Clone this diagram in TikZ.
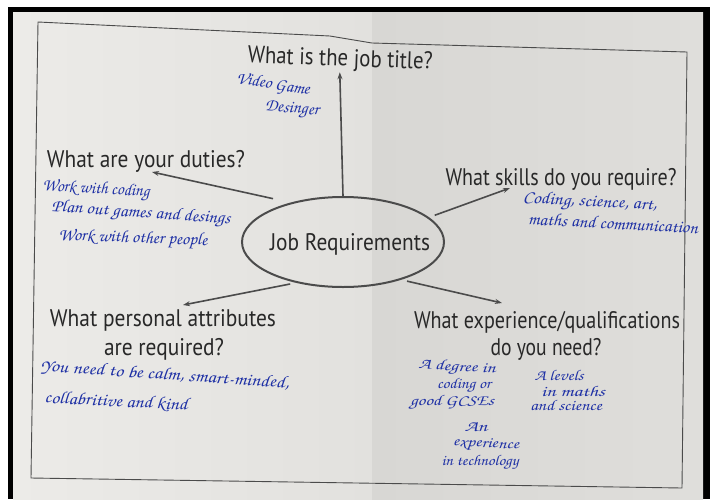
\documentclass[tikz,border=0pt]{standalone}
\usepackage{fontspec}
\usepackage{graphicx}
\setsansfont{PT Sans}
\usetikzlibrary{shapes.geometric,arrows.meta}

\definecolor{ink}{RGB}{40,40,40}
\definecolor{pen}{RGB}{30,48,165}
\definecolor{lines}{RGB}{75,75,75}
\definecolor{pageL}{RGB}{236,235,232}
\definecolor{pageM}{RGB}{226,225,222}
\definecolor{pageD}{RGB}{216,215,212}
\definecolor{pageR}{RGB}{223,222,219}

% squeeze a text to a given width (in px)
\newcommand\fitw[2]{\setbox0\hbox{#2}\pgfmathsetmacro\fitfac{#1/\the\wd0}\scalebox{\fitfac}[1]{\box0}}
\newcommand\hand{\fontencoding{OT1}\fontfamily{pzc}\fontseries{mb}\fontshape{it}\selectfont}

\begin{document}
\begin{tikzpicture}[x=1pt,y=-1pt]
	\tikzset{printed/.style={font=\sffamily\fontsize{24}{26}\selectfont,text=ink,inner sep=1pt,anchor=base}}
	\tikzset{hw/.style={font=\hand\fontsize{17.5}{19}\selectfont,text=pen,inner sep=0pt}}
	\tikzset{hwsmall/.style={hw,font=\hand\fontsize{15}{16}\selectfont}}
	\tikzset{hub/.style={ellipse,draw=lines,line width=2pt,minimum width=202pt,minimum height=90pt,inner sep=0pt}}
	\tikzset{conn/.style={draw=lines,line width=1.6pt,-{Stealth[length=7pt,width=5pt]}}}
	\useasboundingbox (0,0) rectangle (710,499);

	% the photo of the sheet
	\fill[white] (0,0) rectangle (710,499);
	\fill[black] (8,7) rectangle (710,499);
	\shade[left color=pageL,right color=pageM] (13,12) rectangle (372,499);
	\shade[left color=pageD,right color=pageR] (372,12) rectangle (703,499);
	\draw[lines,line width=0.9pt] (38,22) -- (330,36) -- (372,43) -- (687,52) -- (682,488) -- (31,478) -- cycle;

	% centre
	\node[hub] (job) at (343,242) {};
	\node[printed] (jobText) at (350,250) {\fitw{160}{Job Requirements}};

	% questions
	\node[printed,rotate=-2] (title) at (340,66) {\fitw{185}{What is the job title?}};
	\node[printed] (duties) at (146,167) {\fitw{198}{What are your duties?}};
	\node[printed] (skills) at (561,185) {\fitw{231}{What skills do you require?}};
	\node[printed] (attrib) at (163,326) {\fitw{226}{What personal attributes}};
	\node[printed] (attribB) at (164,355) {\fitw{120}{are required?}};
	\node[printed] (exper) at (547,328) {\fitw{266}{What experience/qualifications}};
	\node[printed] (experB) at (546,355) {\fitw{111}{do you need?}};

	% answers
	\node[hw,rotate=-9] (video) at (273,85) {\fitw{74}{Video Game}};
	\node[hw,rotate=-5] (desinger) at (292,110) {\fitw{54}{Desinger}};
	\node[hw,rotate=-3] (dutyA) at (96,190) {\fitw{107}{Work with coding}};
	\node[hw,rotate=-4] (dutyB) at (141,214) {\fitw{179}{Plan out games and desings}};
	\node[hw,rotate=-2] (dutyC) at (133,239) {\fitw{149}{Work with other people}};
	\node[hw,rotate=-3] (skillA) at (590,203) {\fitw{134}{Coding, science, art,}};
	\node[hw,rotate=-3] (skillB) at (613,223) {\fitw{170}{maths and communication}};
	\node[hw,rotate=-4] (attA) at (165,375) {\fitw{249}{You need to be calm, smart-minded,}};
	\node[hw,rotate=-3] (attB) at (116,402) {\fitw{143}{collabritive and kind}};
	\node[hwsmall,rotate=-3] (degA) at (457,368) {\fitw{77}{A degree in}};
	\node[hwsmall] (degB) at (464,385) {\fitw{54}{coding or}};
	\node[hwsmall] (degC) at (452,402) {\fitw{84}{good GCSEs}};
	\node[hwsmall] (lvlA) at (559,375) {\fitw{49}{A levels}};
	\node[hwsmall] (lvlB) at (573,391) {\fitw{64}{in maths}};
	\node[hwsmall] (lvlC) at (566,405) {\fitw{72}{and science}};
	\node[hwsmall] (expA) at (476,427) {\fitw{23}{An}};
	\node[hwsmall,rotate=-3] (expB) at (486,445) {\fitw{66}{experience}};
	\node[hwsmall] (expC) at (480,462) {\fitw{77}{in technology}};

	% arrows
	\coordinate (tipDuties) at (152,172);
	\coordinate (tipSkills) at (510,188);
	\coordinate (tipAttrib) at (183,305);
	\coordinate (tipExper) at (502,303);
	\draw[conn] (job.north) -- (title.south);
	\draw[conn,shorten <=18pt] (job.143.8) -- (tipDuties);
	\draw[conn,shorten <=6pt] (job.16.7) -- (tipSkills);
	\draw[conn,shorten <=6pt] (job.221.9) -- (tipAttrib);
	\draw[conn,shorten <=6pt] (job.-33.5) -- (tipExper);
\end{tikzpicture}
\end{document}
